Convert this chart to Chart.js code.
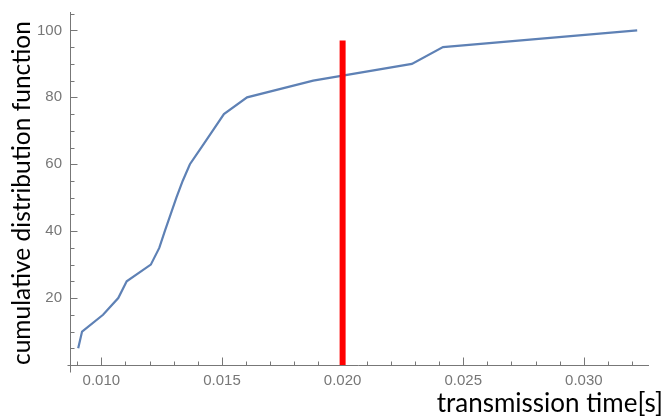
<!DOCTYPE html>
<html>
<head>
<meta charset="utf-8">
<script src="https://cdn.jsdelivr.net/npm/chart.js@4/dist/chart.umd.min.js"></script>
<style>
  html, body { margin: 0; padding: 0; background: #fff; }
  #wrap { width: 667px; height: 418px; }
</style>
</head>
<body>
<div id="wrap"><canvas id="cdfChart" width="667" height="418"></canvas></div>
<script>
// CDF of transmission time
const cdfPercent = [5, 10, 15, 20, 25, 30, 35, 40, 45, 50, 55, 60, 65, 70, 75, 80, 85, 90, 95, 100];
const transmissionTime = [0.00904, 0.00920, 0.01007, 0.01070, 0.01105, 0.01205, 0.01240, 0.01263,
  0.01287, 0.01311, 0.01337, 0.01367, 0.01414, 0.01461, 0.01508, 0.01604, 0.01878, 0.02287, 0.02416, 0.03221];

// red threshold marker
const thresholdTime = [0.020, 0.020];
const thresholdLevel = [0, 97];

// tick labels
const xTickValues = [0.010, 0.015, 0.020, 0.025, 0.030];
const yTickValues = [20, 40, 60, 80, 100];

const xMin = 0.00870, xMax = 0.03328, xAxisEnd = 0.0327;
const yMin = 0, yMax = 105.5;

const axisColor = '#777';

// Mathematica-style axes: lines crossing at the corner, ticks pointing inward
const inwardAxes = {
  id: 'inwardAxes',
  beforeDatasetsDraw(chart) {
    const { ctx, scales: { x, y } } = chart;
    const left = Math.round(x.getPixelForValue(xMin)) + 0.5;
    const bottom = Math.round(y.getPixelForValue(0)) + 0.5;
    const xEnd = x.getPixelForValue(xAxisEnd);
    const yTop = y.getPixelForValue(yMax);
    ctx.save();
    ctx.strokeStyle = axisColor;
    ctx.lineWidth = 1;
    ctx.beginPath();
    ctx.moveTo(left - 3, bottom); ctx.lineTo(xEnd, bottom);
    ctx.moveTo(left, bottom + 7); ctx.lineTo(left, yTop);
    // x ticks every 0.001, major every 0.005
    for (let i = 9; i <= 32; i++) {
      const px = Math.round(x.getPixelForValue(i / 1000)) + 0.5;
      const len = i % 5 === 0 ? 8 : 4;
      ctx.moveTo(px, bottom); ctx.lineTo(px, bottom - len);
    }
    // y ticks every 5, major every 20
    for (let v = 5; v <= 105; v += 5) {
      const py = Math.round(y.getPixelForValue(v)) + 0.5;
      const len = v % 20 === 0 ? 7 : 4;
      ctx.moveTo(left, py); ctx.lineTo(left + len, py);
    }
    ctx.stroke();
    ctx.restore();
  }
};

const ctx = document.getElementById('cdfChart').getContext('2d');
new Chart(ctx, {
  type: 'scatter',
  data: {
    datasets: [
      {
        label: 'threshold',
        data: thresholdTime.map((t, i) => ({ x: t, y: thresholdLevel[i] })),
        showLine: true,
        borderColor: '#ff0000',
        borderWidth: 6,
        borderCapStyle: 'butt',
        pointRadius: 0,
        order: 0
      },
      {
        label: 'CDF',
        data: transmissionTime.map((t, i) => ({ x: t, y: cdfPercent[i] })),
        showLine: true,
        borderColor: '#5e81b5',
        borderWidth: 2.2,
        pointRadius: 0,
        tension: 0,
        order: 1
      }
    ]
  },
  options: {
    responsive: false,
    animation: false,
    layout: { padding: { left: 0, right: 4, top: 12, bottom: 0 } },
    plugins: {
      legend: { display: false },
      tooltip: { enabled: false }
    },
    scales: {
      x: {
        type: 'linear',
        min: xMin,
        max: xMax,
        grid: { display: false, drawTicks: false },
        border: { display: false },
        afterBuildTicks: (scale) => { scale.ticks = xTickValues.map(v => ({ value: v })); },
        afterFit: (scale) => { scale.height = 53; scale.paddingLeft = 0; scale.paddingRight = 0; },
        ticks: {
          padding: 7,
          color: '#777',
          font: { family: 'Liberation Sans', size: 15 },
          maxRotation: 0,
          callback: (v) => Number(v).toFixed(3)
        },
        title: {
          display: true,
          text: 'transmission time[s]',
          align: 'end',
          color: '#000',
          font: { family: 'Lato', size: 26, lineHeight: 1 },
          padding: { top: 0, bottom: 1 }
        }
      },
      y: {
        type: 'linear',
        min: yMin,
        max: yMax,
        grid: { display: false, drawTicks: false },
        border: { display: false },
        afterBuildTicks: (scale) => { scale.ticks = yTickValues.map(v => ({ value: v })); },
        afterFit: (scale) => { scale.width = 70; scale.paddingTop = 0; scale.paddingBottom = 0; },
        ticks: {
          padding: 8,
          color: '#777',
          font: { family: 'Liberation Sans', size: 15 }
        },
        title: {
          display: true,
          text: 'cumulative distribution function',
          align: 'start',
          color: '#000',
          font: { family: 'Lato', size: 24.5, lineHeight: 1 },
          padding: { top: 10, bottom: 0 }
        }
      }
    }
  },
  plugins: [inwardAxes]
});
</script>
</body>
</html>
